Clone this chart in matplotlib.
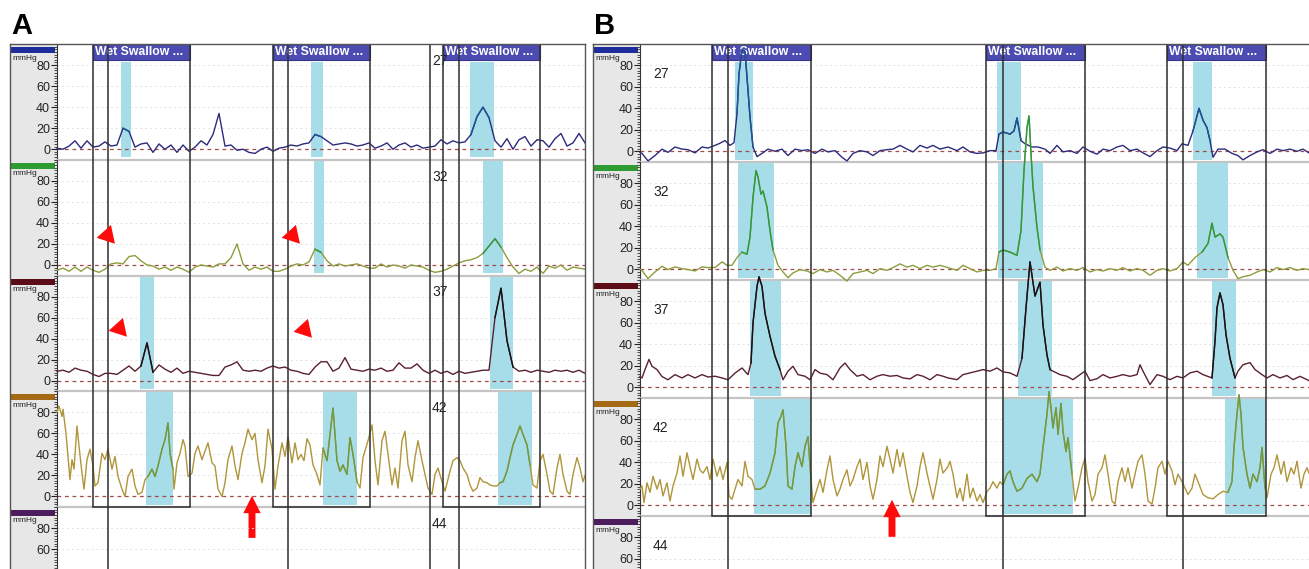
import numpy as np
import matplotlib
matplotlib.use('Agg')
import matplotlib.pyplot as plt
import matplotlib.transforms as mtransforms
from matplotlib.patches import Rectangle, FancyArrowPatch
from matplotlib.ticker import FixedLocator, MultipleLocator

plt.rcParams['font.family'] = ['Liberation Sans', 'DejaVu Sans']

# ---------------- panel A (time in screen samples, pressure in mmHg) ----------------
a_grid = np.arange(0, 529, 6)
a_lane1 = [1, 0, 3, 8, 1, 8, 2, 3, 7, 3,
           4, 20, 17, 2, 5, 6, -3, 5, 0, 4,
           -3, 4, -2, 2, 8, 4, 14, 34, 3, 4,
           -1, 0, -3, -4, 0, 2, -2, 1, 2, 4,
           3, 5, 6, 14, 12, 8, 4, 5, 6, 5,
           3, 4, 6, 1, 3, 6, 0, 4, 6, 2,
           4, 1, 2, 3, 9, 5, 8, 6, 7, 14,
           31, 40, 30, 8, 2, 10, 0, 9, 12, 3,
           9, 8, 2, 10, 15, 3, 6, 15, 6]
a_lane2 = [-5, -3, -6, -2, -6, -2, -5, -7, -4, 1,
           2, 1, 8, 9, 4, 0, -1, -4, -2, -5,
           -2, -4, -7, -2, 0, -1, -2, 1, 1, 7,
           20, 1, -5, -2, -4, -2, -6, -6, -4, -1,
           1, 0, 3, 15, 12, 4, -1, 1, -1, 0,
           1, -1, -3, -3, 1, -2, 0, -1, -3, 0,
           -1, -2, -5, -7, -6, -4, -1, 2, 4, 5,
           7, 11, 18, 25, 17, 7, -2, -8, -4, -6,
           -2, -8, -1, -3, 0, -5, -2, -3, -4]
a_lane3 = [9, 10, 8, 12, 10, 9, 6, 4, 7, 7,
           6, 10, 14, 9, 14, 36, 8, 15, 11, 8,
           12, 7, 9, 8, 7, 6, 5, 5, 13, 15,
           18, 10, 9, 10, 9, 12, 14, 12, 13, 10,
           9, 7, 6, 13, 18, 18, 9, 12, 22, 11,
           10, 9, 11, 10, 12, 9, 10, 17, 12, 12,
           16, 10, 7, 10, 7, 9, 6, 9, 7, 8,
           9, 10, 10, 60, 88, 38, 13, 9, 10, 8,
           10, 9, 8, 10, 9, 10, 8, 10, 7]
a_lane4 = [(0, 80), (2, 86), (5, 76), (6, 83), (9, 60), (11, 38), (13, 16), (15, 35), (17, 26),
           (20, 67), (22, 48), (25, 22), (27, 7), (30, 35), (33, 45), (36, 29), (38, 10), (41, 13),
           (45, 41), (48, 35), (51, 45), (55, 26), (58, 38), (61, 19), (65, 7), (68, 0), (71, 19),
           (75, 26), (78, 10), (81, 2), (85, 4), (88, 16), (91, 19), (95, 26), (98, 19), (101, 29),
           (105, 45), (108, 54), (111, 70), (113, 41), (116, 26), (117, 7), (120, 32), (123, 41),
           (126, 54), (128, 48), (131, 19), (135, 22), (138, 41), (141, 48), (145, 35), (148, 43),
           (151, 51), (155, 32), (158, 29), (161, 7), (165, 0), (168, 13), (171, 35), (175, 48),
           (178, 29), (181, 16), (185, 41), (188, 51), (191, 64), (195, 54), (198, 60), (201, 35),
           (205, 13), (208, 29), (211, 64), (215, 45), (218, 7), (221, 29), (225, 51), (228, 38),
           (231, 57), (235, 32), (238, 51), (241, 35), (244, 40), (247, 34), (250, 55), (253, 49),
           (256, 30), (260, 21), (263, 11), (266, 46), (270, 34), (273, 59), (276, 84), (280, 34),
           (283, 24), (286, 30), (290, 21), (293, 56), (296, 40), (300, 14), (303, 8), (306, 37),
           (311, 53), (315, 68), (318, 34), (321, 11), (325, 53), (328, 62), (331, 40), (335, 11),
           (338, 27), (341, 8), (345, 53), (348, 62), (351, 30), (355, 14), (358, 37), (361, 53),
           (365, 34), (368, 21), (371, 8), (375, 2), (378, 21), (381, 27), (385, 14), (388, 5),
           (393, 24), (396, 34), (400, 37), (403, 34), (406, 27), (410, 21), (413, 11), (416, 5),
           (420, 8), (423, 18), (426, 14), (430, 13), (433, 11), (436, 10), (440, 10), (443, 13),
           (446, 14), (450, 24), (453, 37), (456, 49), (460, 59), (463, 67), (466, 59), (470, 49),
           (473, 30), (476, 11), (480, 8), (483, 34), (486, 40), (490, 21), (493, 5), (496, 2),
           (500, 27), (503, 40), (506, 21), (510, 5), (513, 2), (516, 21), (520, 37), (523, 27),
           (526, 14), (528, 20)]

a_swallows = [(36, 51, 133), (216, 231, 313), (386, 402, 483)]  # box start, marker, box end
a_extra_lines = [373]
a_cyan = [[(64, 74), (254, 266), (413, 437)],
          [(257, 267), (426, 446)],
          [(83, 97), (433, 456)],
          [(89, 116), (266, 300), (441, 475)]]

# ---------------- panel B ----------------
b_lane1 = [(0, -1), (2, -2), (8, -9), (15, -4), (22, 2), (28, -1), (35, 4), (42, 2), (48, 1.5),
           (55, -1.5), (62, 4), (68, 3), (75, 5.5), (80, 7.5), (85, 10), (90, 5.5), (94, 8),
           (97, 35), (99, 72), (102, 95), (105, 93), (107, 69), (110, 32), (113, 4), (117, -5),
           (122, -2), (128, 2), (135, 0), (142, 2), (148, -4), (155, 2), (162, 0.6), (168, 1.5),
           (175, -2), (182, 2), (188, -0.6), (195, 0.6), (202, -5.6), (207, -9), (213, -2),
           (220, 0.6), (227, -0.6), (233, -4), (240, 0.6), (247, 1.5), (253, 2), (260, 5.5),
           (267, 2), (273, -0.6), (280, 5.5), (287, 3), (293, 5.5), (300, 2), (308, 4),
           (317, 0.6), (323, 4), (330, -0.6), (337, -2), (343, -1.5), (350, 0.6), (356, 0.6),
           (359, 16), (363, 18), (370, 16), (374, 19), (377, 31), (381, 10), (385, 7), (392, 4),
           (398, 4), (405, 2), (410, -2), (417, 5.5), (423, -0.6), (430, 0.6), (437, -2),
           (443, 4), (450, 0), (457, -2.7), (463, 2), (470, 0.6), (477, 4), (483, 5.5),
           (490, 0.6), (497, 2), (503, -1.5), (510, -5), (517, 0.6), (523, 4), (530, 3),
           (537, 0.6), (542, 7), (548, 5.5), (553, 19), (559, 40), (563, 29), (567, 22),
           (570, 10), (573, -5.6), (578, 2), (585, 2), (592, -2), (598, -4), (603, -8),
           (610, -4), (617, -0.6), (623, 1.5), (630, -2), (637, 2), (643, 0.6), (650, 2),
           (657, 0), (663, 2), (669, -1.5)]
b_lane2 = [(0, 0), (2, -1), (8, -8.7), (15, -2.5), (22, 2.8), (28, -0.3), (35, 2.2), (42, 0.6),
           (48, -0.3), (55, -1.6), (62, 2.2), (68, 1.6), (75, 1.6), (82, 6.9), (87, 3.7),
           (92, 3.7), (97, 11), (102, 16), (107, 14), (110, 30), (113, 67), (116, 92), (118, 86),
           (121, 70), (123, 73), (127, 58), (130, 36), (133, 18), (138, 3.7), (143, -2.5),
           (148, -7.8), (153, -3.4), (160, -0.3), (167, -1.6), (173, -4), (180, -0.3),
           (187, -2.5), (193, -1), (200, -5.6), (207, -11), (213, -4), (220, -2.5), (227, -1),
           (233, -4), (240, 0.6), (247, -1), (253, 1.6), (260, 5), (267, 2), (273, 3.7),
           (280, 0.6), (287, 3.7), (293, 2), (300, 3.7), (308, 1.6), (317, -1), (323, 3.7),
           (330, 0.6), (337, -2.5), (343, -1), (350, -1), (356, 0.6), (359, 16), (363, 18),
           (370, 16), (377, 13), (381, 36), (384, 92), (387, 132), (389, 143), (391, 108),
           (393, 77), (397, 39), (400, 18), (405, 2), (410, -1), (417, 2), (423, -1.6),
           (430, 0.6), (437, -1), (443, 1.6), (450, -2.5), (457, -0.3), (463, -1.6), (470, 0.6),
           (477, -1), (483, 1.6), (490, -1.6), (497, 0.6), (503, -1), (510, -5.6), (517, -1),
           (523, 0.6), (530, -1.6), (537, 0.6), (543, 6.9), (548, 3.7), (555, 11), (562, 16),
           (568, 24), (572, 43), (575, 30), (580, 33), (583, 30), (588, 11), (593, -1),
           (598, -8.7), (603, -7), (610, -5.6), (617, -2.5), (623, -0.3), (630, -2.5),
           (637, 1.6), (643, -0.3), (650, 1.6), (657, -1), (663, 0.6), (669, -0.3)]
b_lane3 = [(0, 10), (2, 8.7), (5, 16.5), (9, 26), (12, 19.6), (17, 16.5), (22, 10), (28, 7),
           (35, 11.8), (42, 8.7), (48, 11.8), (55, 8.7), (62, 11.8), (68, 9.6), (75, 10.3),
           (82, 8.7), (88, 7), (95, 13.2), (102, 18), (108, 11.8), (111, 22.6), (113, 60),
           (117, 94), (119, 103), (122, 94), (125, 69), (130, 47.5), (135, 29), (140, 16.5),
           (143, 7), (148, 15), (153, 19.6), (158, 11.8), (165, 10.3), (170, 7), (175, 16.5),
           (180, 13.2), (187, 11.8), (193, 7), (200, 18), (205, 22.6), (210, 16.5), (217, 10.3),
           (223, 11.8), (230, 7), (237, 10.3), (243, 11.8), (250, 10.3), (257, 11), (263, 8.7),
           (270, 7.8), (277, 11.8), (283, 10.3), (290, 7), (297, 11.8), (303, 10.3), (308, 8.7),
           (317, 7.1), (323, 11.8), (330, 13.4), (337, 15), (343, 16.5), (350, 15), (357, 18),
           (363, 14.3), (370, 13.4), (377, 10.2), (382, 27), (386, 74), (390, 117), (395, 85),
           (400, 98), (403, 58), (407, 30), (410, 16.5), (413, 15), (420, 11.8), (427, 10.2),
           (433, 7.1), (440, 11.8), (445, 15), (450, 6.2), (457, 8), (463, 11.8), (470, 8.7),
           (477, 10.2), (483, 11.8), (490, 10.2), (497, 11.8), (500, 21), (503, 15), (510, 2.5),
           (517, 11.8), (523, 10.2), (530, 7.1), (537, 10.2), (543, 8.7), (550, 13.4), (557, 15),
           (563, 11.8), (572, 8.7), (575, 43), (577, 74), (580, 88), (583, 77), (586, 49),
           (590, 27), (595, 8.7), (598, 15), (603, 21), (610, 23), (615, 16.5), (622, 11.8),
           (627, 8.7), (633, 11.8), (640, 8.7), (647, 11), (653, 7.1), (660, 10.2), (669, 6.2)]
b_lane4 = [(0, 15), (2, 18), (4, 2.5), (7, 21), (10, 12), (13, 27), (17, 15), (20, 24), (23, 8.7),
           (27, 21), (30, 4), (33, 18), (37, 30), (40, 46), (43, 27), (47, 49), (50, 36), (53, 24),
           (57, 43), (60, 33), (63, 30), (67, 36), (70, 24), (73, 43), (77, 27), (80, 36), (83, 24),
           (87, 40), (89, 8.7), (92, 5.6), (95, 15), (98, 24), (102, 18), (105, 41), (108, 27),
           (112, 24), (115, 15), (120, 15), (125, 18), (130, 30), (135, 49), (138, 77), (141, 83),
           (143, 89), (146, 55), (148, 18), (152, 15), (155, 36), (158, 49), (162, 36), (165, 55),
           (168, 64), (171, 24), (173, 2.5), (177, 15), (180, 24), (183, 12), (187, 33), (190, 46),
           (193, 24), (197, 8.7), (200, 15), (203, 24), (207, 33), (210, 18), (213, 24), (217, 36),
           (220, 43), (223, 24), (227, 40), (230, 18), (233, 5.6), (237, 24), (240, 46), (243, 36),
           (247, 55), (250, 43), (253, 30), (257, 52), (260, 36), (263, 49), (267, 27), (270, 12),
           (273, 2.5), (277, 18), (280, 36), (283, 49), (287, 30), (290, 18), (293, 5.6), (297, 24),
           (300, 43), (303, 30), (308, 36), (310, 41), (313, 29), (317, 7), (320, 16), (323, 4),
           (327, 29), (330, 7), (333, 16), (337, 4), (340, 10), (343, 2.5), (347, 13), (350, 16),
           (353, 22), (357, 16), (360, 22), (363, 19), (367, 29), (370, 32), (373, 22), (377, 13),
           (382, 16), (387, 25), (392, 29), (397, 22), (400, 29), (403, 54), (407, 85), (409, 106),
           (411, 91), (413, 72), (416, 91), (418, 66), (421, 95), (423, 69), (426, 50), (428, 63),
           (432, 29), (435, 4), (438, 16), (442, 35), (445, 44), (448, 22), (452, 4), (455, 10),
           (458, 29), (462, 35), (465, 47), (468, 29), (472, 4), (475, 1), (478, 22), (482, 35),
           (485, 22), (488, 35), (492, 16), (495, 29), (498, 41), (502, 47), (505, 29), (508, 4),
           (512, 1), (515, 16), (518, 35), (522, 41), (525, 29), (528, 41), (532, 32), (535, 19),
           (538, 29), (542, 22), (545, 16), (548, 10), (552, 16), (555, 29), (558, 22), (563, 10),
           (568, 7), (573, 6), (578, 10), (583, 13), (588, 12), (592, 22), (594, 54), (597, 85),
           (599, 103), (601, 85), (603, 54), (607, 29), (610, 16), (613, 29), (617, 22), (620, 35),
           (622, 54), (625, 16), (627, 7), (631, 29), (634, 35), (637, 47), (641, 29), (644, 41),
           (647, 22), (651, 35), (654, 29), (657, 41), (661, 16), (664, 29), (667, 35), (669, 30)]

b_swallows = [(72, 88, 171), (346, 363, 445), (527, 543, 626)]
b_extra_lines = []
b_cyan = [[(95, 113), (357, 381), (553, 572)],
          [(98, 134), (358, 403), (557, 588)],
          [(110, 141), (378, 412), (572, 596)],
          [(114, 171), (362, 433), (585, 626)]]

lane_names = ['27', '32', '37', '42', '44']
lane_ticks = [0, 20, 40, 60, 80]
bottom_lane_ticks = [60, 80]   # the last channel is cut by the image edge
bar_colors = ['#1e2c9c', '#2f9b33', '#5c0c16', '#a46a14', '#4c1c5c']
trace_colors = ['#2b2b7c', '#8e9c3c', '#5a2030', '#b0953a']
hi_colors = ['#1d5592', '#2a9a40', '#141414', '#6c9c44']
cyan = '#a6dde9'

W, H = 1309, 569
fig = plt.figure(figsize=(W / 100, H / 100), dpi=100)


def box(x0, y0, x1, y1):
    # pixel box (origin top-left) -> figure fraction rect
    return [x0 / W, 1 - y1 / H, (x1 - x0) / W, (y1 - y0) / H]


def as_tv(pairs):
    arr = np.array(pairs, dtype=float)
    return arr[:, 0], arr[:, 1]


def draw_panel(letter, letter_x, strip_x, plot_x, plot_r, frame_r, lane_h,
               traces, cyan_spans, swallows, extra_lines, label_pos, arrow, triangles):
    top = 44
    t_max = plot_r - plot_x

    # grey channel strip on the left
    sax = fig.add_axes(box(strip_x, top, plot_x, H))
    sax.set_facecolor('#e7e7e7')
    sax.set_xlim(0, plot_x - strip_x)
    sax.set_ylim(H - top, 0)
    sax.set_xticks([])
    sax.set_yticks([])
    for s in sax.spines.values():
        s.set_visible(False)
    for i in range(5):
        y0 = i * lane_h
        sax.add_patch(Rectangle((1, y0 + 3), plot_x - strip_x - 3, 6, color=bar_colors[i], lw=0))
        sax.text(2, y0 + 10.5, 'mmHg', fontsize=6, ha='left', va='top', color='#222222')

    lanes = []
    for i in range(5):
        y0 = top + i * lane_h
        ax = fig.add_axes(box(plot_x, y0, plot_r, y0 + lane_h))
        ax.set_facecolor('none')
        ax.set_xlim(0, t_max)
        ax.set_ylim(-10, 100)
        ax.set_xticks([])
        ax.yaxis.set_major_locator(FixedLocator(lane_ticks if i < 4 else bottom_lane_ticks))
        ax.yaxis.set_minor_locator(MultipleLocator(2.5))
        ax.tick_params(axis='y', which='major', length=4, width=0.8, pad=1,
                       labelsize=9, colors='#222222')
        ax.tick_params(axis='y', which='minor', length=2.5, width=0.6, colors='#333333')
        ax.spines['top'].set_visible(False)
        ax.spines['right'].set_visible(False)
        ax.spines['bottom'].set_color('#c4c4c4')
        ax.spines['bottom'].set_linewidth(1.6)
        ax.spines['left'].set_color('#333333')
        for g in (20, 40, 60, 80):
            ax.axhline(g, color='#e2e2e2', lw=0.7, ls=(0, (2, 3)), zorder=0.2)
        ax.axhline(0, color='#a34a4a', lw=0.9, ls=(0, (3, 3)), zorder=1)
        ax.text(label_pos[0], label_pos[1], lane_names[i], fontsize=10, ha='left',
                va='center', color='#222222', zorder=4)
        lanes.append(ax)

    # cyan contraction windows and traces
    for i in range(4):
        ax = lanes[i]
        t, v = traces[i]
        ymax = 1 - 18 / lane_h if i == 0 else 0.99
        for c0, c1 in cyan_spans[i]:
            ax.axvspan(c0, c1, ymin=0.02, ymax=ymax, color=cyan, lw=0, zorder=0.5)
        ax.plot(t, v, color=trace_colors[i], lw=1.0, zorder=3, clip_on=False)
        for c0, c1 in cyan_spans[i]:
            m = (t >= c0) & (t <= c1)
            ax.plot(t[m], v[m], color=hi_colors[i], lw=1.0, zorder=3.1, clip_on=False)

    # wet swallow boxes
    head = 16 / lane_h
    for s, mk, e in swallows:
        for i in range(4):
            lanes[i].axvline(s, color='#2e2e2e', lw=1.1, zorder=4)
            lanes[i].axvline(e, color='#2e2e2e', lw=1.1, zorder=4)
        for i in range(5):
            lanes[i].axvline(mk, color='#2e2e2e', lw=1.1, zorder=4)
        tr = mtransforms.blended_transform_factory(lanes[0].transData, lanes[0].transAxes)
        lanes[0].add_patch(Rectangle((s, 1 - head), e - s, head, transform=tr,
                                     facecolor='#4b4bb1', edgecolor='#34348c', lw=0.8, zorder=2))
        lanes[0].text(s + 2, 1 - head / 2, 'Wet Swallow ...', transform=tr, fontsize=8.8,
                      fontweight='bold', color='white', va='center', ha='left', zorder=2.5)
        tr4 = mtransforms.blended_transform_factory(lanes[3].transData, lanes[3].transAxes)
        lanes[3].plot([s, e], [0, 0], transform=tr4, color='#2e2e2e', lw=1.1,
                      clip_on=False, zorder=4)
    for x in extra_lines:
        for i in range(5):
            lanes[i].axvline(x, color='#2e2e2e', lw=1.1, zorder=4)

    # red annotations
    for lane, t0, v0 in triangles:
        lanes[lane].plot(t0, v0, marker=(3, 0, 102), ms=16, color='#ff0a0a',
                         mew=0, clip_on=False, zorder=6)
    ta, tip, tail = arrow
    lanes[3].add_patch(FancyArrowPatch((ta, tail), (ta, tip),
                                       arrowstyle='simple,head_length=1.25,head_width=1.25,tail_width=0.5',
                                       mutation_scale=10, color='#ff0a0a', lw=0,
                                       clip_on=False, zorder=6))

    # panel frame
    fax = fig.add_axes(box(strip_x, top, frame_r, H + 10))
    fax.set_facecolor('none')
    fax.set_xticks([])
    fax.set_yticks([])
    for s in fax.spines.values():
        s.set_color('#555555')
        s.set_linewidth(1.0)

    fig.text(letter_x / W, 1 - 26 / H, letter, fontsize=21, fontweight='bold',
             ha='left', va='center', color='black')


a_traces = [(a_grid, np.array(a_lane1, float)), (a_grid, np.array(a_lane2, float)),
            (a_grid, np.array(a_lane3, float)), as_tv(a_lane4)]
b_traces = [as_tv(b_lane1), as_tv(b_lane2), as_tv(b_lane3), as_tv(b_lane4)]

draw_panel('A', 11, 10, 57, 585, 585, 115.75, a_traces, a_cyan, a_swallows, a_extra_lines,
           (375, 84), (195, 3.3, -42),
           [(1, 50, 28.5), (1, 235, 28.5), (2, 62, 50), (2, 247, 49)])
draw_panel('B', 594, 593, 640, 1309, 1320, 118, b_traces, b_cyan, b_swallows, b_extra_lines,
           (13, 72), (252, 7.7, -32), [])

fig.savefig('out.png', dpi=100)
